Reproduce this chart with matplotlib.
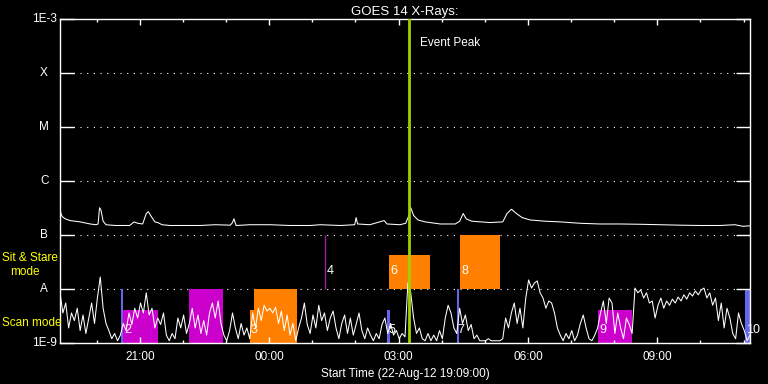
import datetime
import numpy as np
import matplotlib
matplotlib.use("Agg")
import matplotlib.pyplot as plt
import matplotlib.dates as mdates

plt.rcParams['font.family'] = ['Liberation Sans', 'DejaVu Sans']

start = datetime.datetime(2012, 8, 22, 19, 9)

# GOES long channel (1-8 A), minutes after start, flux in 1e-7 W/m^2
long_min = [0, 3, 7, 14, 28, 42, 50, 53, 55, 57, 60, 64, 77, 97, 103, 108, 115, 120,
            123, 127, 132, 136, 142, 153, 181, 195, 216, 237, 240, 242, 245, 264, 292,
            320, 348, 362, 390, 410, 412, 414, 431, 451, 455, 473, 481, 486, 488, 492,
            498, 508, 529, 550, 556, 561, 565, 573, 598, 616, 622, 628, 635, 643, 654,
            675, 696, 723, 751, 779, 807, 835, 863, 890, 918, 939, 950, 960]
long_flux = [2.8, 2.2, 2.0, 1.85, 1.75, 1.6, 1.55, 1.6, 3.2, 2.9, 1.8, 1.55, 1.5, 1.5,
             1.75, 1.65, 1.6, 2.5, 2.7, 2.2, 1.75, 1.7, 1.55, 1.5, 1.5, 1.5, 1.55, 1.52,
             1.7, 2.0, 1.5, 1.55, 1.55, 1.5, 1.5, 1.55, 1.5, 1.55, 2.1, 1.6, 1.55, 1.85,
             1.6, 1.55, 1.65, 2.4, 3.2, 2.3, 1.9, 1.75, 1.6, 1.6, 1.8, 2.5, 2.0, 1.8,
             1.7, 1.75, 2.5, 3.0, 2.5, 2.1, 1.9, 1.8, 1.75, 1.65, 1.6, 1.6, 1.58, 1.55,
             1.52, 1.5, 1.5, 1.55, 1.45, 1.48]

# GOES short channel (0.5-4 A), every 4 minutes, flux in 1e-9 W/m^2
short_flux = [8.5, 3.6, 5.5, 1.9, 3.6, 2.6, 4.4, 1.7, 3.3, 1.5, 2.9, 5.5, 2.3, 6.8,
              16.7, 4.4, 2.3, 1.7, 1.2, 1.5, 1.1, 1.4, 2.3, 1.7, 3.6, 2.2, 4.4, 2.9,
              5.5, 3.6, 8.5, 3.3, 4.4, 1.9, 2.9, 2.2, 3.6, 1.4, 1.1, 1.5, 1.2, 2.9,
              1.9, 3.3, 1.5, 2.3, 4.4, 1.9, 3.3, 1.5, 2.6, 1.4, 3.6, 5.5, 2.9, 6.0,
              2.3, 1.4, 1.1, 1.7, 3.6, 1.9, 1.2, 2.3, 1.4, 1.9, 1.2, 3.6, 1.9, 4.4,
              2.6, 5.0, 3.9, 4.4, 3.6, 4.6, 2.3, 3.9, 1.7, 3.3, 1.4, 2.3, 1.1, 1.9,
              2.9, 5.5, 2.2, 1.5, 3.3, 1.9, 5.0, 2.6, 3.6, 1.7, 2.9, 3.9, 1.9, 1.2,
              2.3, 3.3, 1.5, 2.9, 1.4, 2.2, 3.6, 1.7, 1.2, 1.9, 1.4, 1.1, 1.5, 1.2,
              2.2, 2.9, 1.5, 2.3, 1.4, 1.7, 1.2, 1.5, 1.3, 12.9, 8.5, 2.9, 1.5, 1.9,
              1.2, 1.1, 1.5, 1.1, 1.4, 1.1, 1.7, 1.2, 2.9, 5.0, 3.6, 1.9, 1.5, 4.4,
              2.3, 3.3, 1.7, 2.2, 1.2, 1.4, 1.1, 1.1, 1.1, 1.2, 1.1, 1.1, 1.1, 1.1,
              1.2, 2.9, 1.9, 3.6, 5.5, 2.3, 4.4, 1.9, 6.8, 14.7, 10.4, 12.9, 14.1, 8.5,
              6.8, 4.4, 6.0, 5.5, 3.6, 1.9, 1.4, 1.1, 1.5, 1.2, 1.7, 1.1, 1.4, 2.3,
              3.3, 1.9, 1.2, 1.1, 1.4, 1.9, 3.6, 6.0, 2.3, 6.8, 5.5, 1.5, 3.6, 1.9,
              1.2, 2.9, 2.2, 1.5, 10.4, 8.5, 9.6, 6.8, 8.5, 5.5, 6.0, 2.9, 5.0, 6.8,
              4.4, 6.0, 5.0, 6.5, 5.5, 7.1, 6.0, 7.8, 6.5, 8.5, 7.4, 9.2, 7.8, 9.6,
              10.4, 6.8, 8.5, 5.0, 6.8, 2.6, 5.5, 1.9, 4.4, 2.9, 1.5, 1.2, 3.6, 2.3,
              1.7, 1.1, 1.4]
short_step_min = 4

# observing blocks: start/end minutes, flux range, colour, label
block_start = [85, 88, 179, 264, 270, 455, 458, 552, 557, 749, 953]
block_end = [88, 136, 227, 270, 330, 459, 515, 555, 612, 796, 960]
block_lo = [1e-9, 1e-9, 1e-9, 1e-9, 1e-9, 1e-9, 1e-8, 1e-9, 1e-8, 1e-9, 1e-9]
block_hi = [1e-8, 4.1e-9, 1e-8, 4.1e-9, 1e-8, 4.1e-9, 4.3e-8, 1e-8, 1e-7, 4.1e-9, 1e-8]
block_color = ['#6464f0', '#cc00cc', '#cc00cc', '#ff8000', '#ff8000', '#6464f0',
               '#ff8000', '#6464f0', '#ff8000', '#cc00cc', '#6464f0']
block_label = ['', '2', '', '3', '', '5', '6', '7', '8', '9', '10']

line4_min = 369
event_min = 486

level_vals = [1e-9, 1e-8, 1e-7, 1e-6, 1e-5, 1e-4, 1e-3]
level_names = ['1E-9', 'A', 'B', 'C', 'M', 'X', '1E-3']


def t(m):
    return start + datetime.timedelta(minutes=float(m))


fig = plt.figure(figsize=(7.68, 3.84), dpi=100, facecolor='black')
ax = fig.add_axes([60 / 768, 1 - 343 / 384, 690 / 768, 324 / 384])
ax.set_facecolor('black')
ax.set_yscale('log')
ax.set_ylim(1e-9, 1e-3)
ax.set_xlim(t(0), t(960))

for s, e, lo, hi, c, lab in zip(block_start, block_end, block_lo, block_hi,
                                block_color, block_label):
    ax.fill_between([t(s), t(e)], lo, hi, color=c, lw=0, zorder=1)
    if lab:
        ly = 2.2e-8 if lo == 1e-8 else 1.75e-9
        ax.text(t(s + 1.5), ly, lab, color='white', fontsize=9,
                va='center', ha='left', zorder=2)

ax.vlines(t(line4_min), 1e-8, 1e-7, color='#a020a0', lw=1, zorder=1)
ax.text(t(line4_min + 2), 2.2e-8, '4', color='white', fontsize=9,
        va='center', ha='left', zorder=2)

for v in level_vals[1:-1]:
    ax.axhline(v, color='white', lw=0.8, ls=(0, (1, 5)), zorder=0.5)

short_t = [t(i * short_step_min) for i in range(len(short_flux))]
ax.plot(short_t, np.array(short_flux) * 1e-9, color='white', lw=0.75, zorder=3)
ax.plot([t(m) for m in long_min], np.array(long_flux) * 1e-7,
        color='white', lw=0.75, zorder=3)

ax.axvline(t(event_min), color='#a0d000', lw=2, zorder=4)
ax.text(t(event_min + 15), 10 ** -3.45, 'Event Peak', color='white',
        fontsize=8.5, va='center', ha='left')

for sp in ax.spines.values():
    sp.set_color('white')
    sp.set_linewidth(1)

ax.set_yticks(level_vals)
ax.set_yticklabels([])
ax.yaxis.set_minor_locator(matplotlib.ticker.NullLocator())
ax.tick_params(axis='y', which='major', direction='in', length=10, width=1,
               color='white', left=True, right=True)
for v, name in zip(level_vals, level_names):
    if name.startswith('1E'):
        ax.text(-0.005, v, name, color='white', fontsize=8.5, ha='right',
                va='center', transform=ax.get_yaxis_transform())
    else:
        ax.text(-0.023, v, name, color='white', fontsize=8.5, ha='center',
                va='center', transform=ax.get_yaxis_transform())

ax.xaxis.set_major_locator(mdates.HourLocator(byhour=[0, 3, 6, 9, 12, 15, 18, 21]))
ax.xaxis.set_minor_locator(mdates.HourLocator())
ax.xaxis.set_major_formatter(mdates.DateFormatter('%H:%M'))
ax.tick_params(axis='x', which='major', direction='in', length=4.5, width=1,
               color='white', labelcolor='white', labelsize=8.5, top=True, pad=6)
ax.tick_params(axis='x', which='minor', direction='in', length=2.5, width=1,
               color='white', top=True)

ax.set_title('GOES 14 X-Rays:', color='white', fontsize=9.5, pad=3)
ax.set_xlabel('Start Time (22-Aug-12 19:09:00)', color='white', fontsize=8.5,
              labelpad=3)

fig.text(2 / 768, 1 - 258 / 384, 'Sit & Stare', color='#ffff00', fontsize=8.5,
         ha='left', va='center')
fig.text(25 / 768, 1 - 272 / 384, 'mode', color='#ffff00', fontsize=8.5,
         ha='center', va='center')
fig.text(2 / 768, 1 - 323 / 384, 'Scan mode', color='#ffff00', fontsize=8.5,
         ha='left', va='center')

fig.savefig('out.png', dpi=100, facecolor='black')
